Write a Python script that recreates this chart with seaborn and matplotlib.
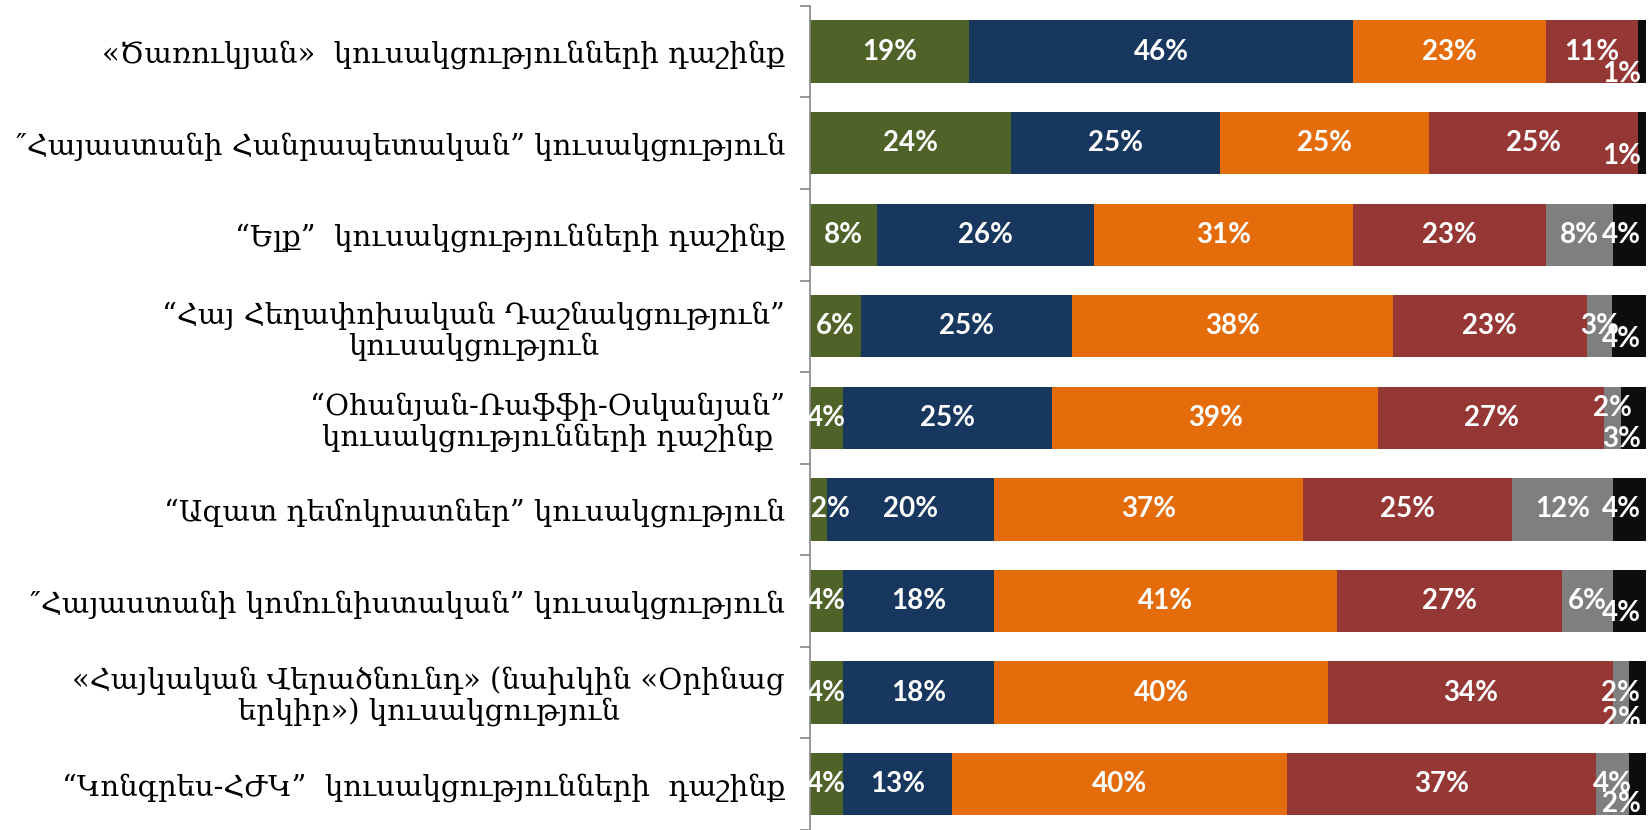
import numpy as np
import pandas as pd
import matplotlib.pyplot as plt
import seaborn as sns

# party / alliance names (top to bottom)
parties = [
    "«Ծառուկյան»  կուսակցությունների դաշինք",
    "″Հայաստանի Հանրապետական” կուսակցություն",
    "“Ելք”  կուսակցությունների դաշինք",
    "“Հայ Հեղափոխական Դաշնակցություն”\nկուսակցություն",
    "“Օհանյան-Ռաֆֆի-Օսկանյան”\nկուսակցությունների դաշինք",
    "“Ազատ դեմոկրատներ” կուսակցություն",
    "″Հայաստանի կոմունիստական” կուսակցություն",
    "«Հայկական Վերածնունդ» (նախկին «Օրինաց\nերկիր») կուսակցություն",
    "“Կոնգրես-ՀԺԿ”  կուսակցությունների  դաշինք",
]

# answer shares, %
green = [19, 24, 8, 6, 4, 2, 4, 4, 4]
navy = [46, 25, 26, 25, 25, 20, 18, 18, 13]
orange = [23, 25, 31, 38, 39, 37, 41, 40, 40]
red = [11, 25, 23, 23, 27, 25, 27, 34, 37]
gray = [0, 0, 8, 3, 2, 12, 6, 2, 4]
black = [1, 1, 4, 4, 3, 4, 4, 2, 2]

series = [green, navy, orange, red, gray, black]
colors = ["#4F6228", "#17375E", "#E46C0A", "#953735", "#7F7F7F", "#0D0D0D"]

# label nudges (pixels, down positive) for crowded small segments
black_dy = [22, 13, 0, 13, 21, 0, 12, 26, 20]
gray_dy = [0, 0, 0, 0, -10, 0, 0, 0, 0]

vals = np.array(series, dtype=float).T
shares = vals / vals.sum(axis=1, keepdims=True) * 100
cum = np.cumsum(shares, axis=1)

df = pd.DataFrame(cum, columns=[f"s{i}" for i in range(6)])
df["party"] = parties

sns.set_theme(style="white")
fig = plt.figure(figsize=(16.51, 8.30), dpi=100)
ax = fig.add_axes([810 / 1651, 0.0, 836 / 1651, 0.993])

# stacked bars: draw cumulative totals from the longest down
for i in range(5, -1, -1):
    sns.barplot(data=df, x=f"s{i}", y="party", order=parties, orient="h",
                color=colors[i], saturation=1, width=0.68, linewidth=0, ax=ax)

lab_font = dict(family="Lato", weight="bold", size=20, color="white")
for r in range(len(parties)):
    left = 0.0
    for i in range(6):
        v = vals[r, i]
        w = shares[r, i]
        if v <= 0:
            left += w
            continue
        txt = f"{int(v)}%"
        if i == 5:
            x, ha, dy = 99.4, "right", black_dy[r]
        elif i == 0 and w < 3:
            x, ha, dy = 0.15, "left", 0
        elif i == 4:
            x, ha, dy = left + w / 2, "center", gray_dy[r]
        else:
            x, ha, dy = left + w / 2, "center", 0
        ax.annotate(txt, (x, r), xytext=(0, -dy), textcoords="offset pixels",
                    ha=ha, va="center", **lab_font)
        left += w

ax.set_xlim(0, 100)
ax.set_ylim(len(parties) - 0.5, -0.5)
ax.set_xlabel("")
ax.set_ylabel("")
ax.set_xticks([])
for s in ["top", "right", "bottom"]:
    ax.spines[s].set_visible(False)
ax.spines["left"].set_color("#868686")
ax.spines["left"].set_linewidth(1.2)

ax.set_yticks(range(len(parties)))
ax.set_yticklabels(parties, family="DejaVu Serif", fontsize=21,
                   multialignment="center", color="black", linespacing=1.1)
ax.set_yticks(np.arange(-0.5, len(parties)), minor=True)
ax.tick_params(axis="y", which="major", length=0, pad=18)
ax.tick_params(axis="y", which="minor", length=7, width=1.2, color="#868686",
               left=True)

fig.savefig("out.png", dpi=100)
